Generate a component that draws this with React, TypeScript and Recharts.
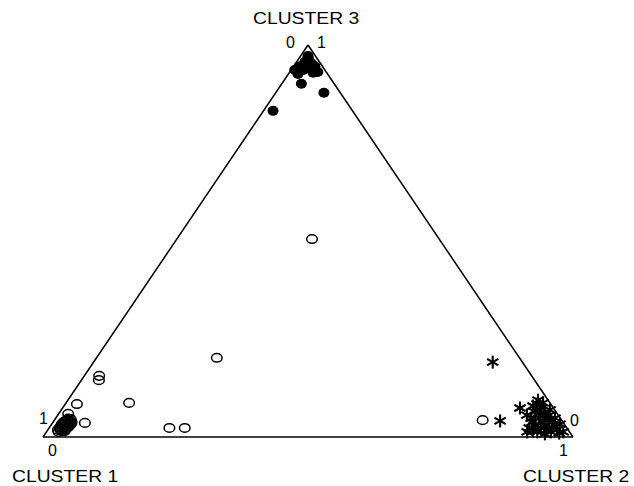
import { ReferenceLine, Scatter, ScatterChart, XAxis, YAxis } from "recharts"

// memberships [cluster 2, cluster 3]; cluster 1 = 1 - both
const cluster3Pts = [
  [0.017, 0.967], [0.016, 0.957], [0.029, 0.954], [0.012, 0.946], [0.04, 0.946],
  [0.018, 0.926], [0.045, 0.929], [0.037, 0.901], [0.091, 0.878], [0.018, 0.832],
  [0.023, 0.936], [0.031, 0.941], [0.007, 0.936], [0.053, 0.931], [0.014, 0.972],
]
const cluster1Pts = [
  [0.255, 0.505], [0.227, 0.202], [0.028, 0.156], [0.033, 0.145], [0.022, 0.084],
  [0.119, 0.087], [0.018, 0.059], [0.061, 0.036], [0.227, 0.023], [0.256, 0.023],
  [0.808, 0.043],
  [0.023, 0.013], [0.024, 0.018], [0.026, 0.023], [0.027, 0.028], [0.028, 0.033],
  [0.03, 0.036], [0.036, 0.033], [0.029, 0.015], [0.033, 0.02], [0.035, 0.026],
  [0.02, 0.026], [0.023, 0.031], [0.019, 0.018], [0.033, 0.023],
  [0.019, 0.033], [0.02, 0.038], [0.022, 0.041], [0.025, 0.043], [0.03, 0.041],
  [0.035, 0.038], [0.035, 0.031], [0.033, 0.015], [0.02, 0.023], [0.033, 0.028],
  [0.024, 0.047], [0.029, 0.046],
]
const cluster2Pts = [
  [0.753, 0.191], [0.863, 0.074], [0.842, 0.041],
  [0.89, 0.084], [0.903, 0.074], [0.896, 0.064], [0.918, 0.059], [0.897, 0.048],
  [0.912, 0.048], [0.933, 0.043], [0.924, 0.038], [0.912, 0.033], [0.947, 0.031],
  [0.906, 0.023], [0.928, 0.023], [0.942, 0.018], [0.961, 0.018], [0.917, 0.015],
  [0.952, 0.013], [0.933, 0.028], [0.926, 0.013], [0.969, 0.01], [0.907, 0.061],
  [0.926, 0.054], [0.904, 0.038],
  [0.887, 0.094], [0.9, 0.087], [0.885, 0.079], [0.885, 0.056], [0.942, 0.048],
  [0.959, 0.033], [0.907, 0.013], [0.943, 0.008], [0.975, 0.013], [0.922, 0.069],
]

const toXY = (pts: number[][]) => pts.map(([c2, c3]) => ({ x: c2 + c3 / 2, y: c3 }))

const Filled = (p: any) => <ellipse cx={p.cx} cy={p.cy} rx={5.5} ry={5} fill="#000" />
const Open = (p: any) => (
  <ellipse cx={p.cx} cy={p.cy} rx={5.3} ry={4.3} fill="none" stroke="#000" strokeWidth={1.5} />
)
const Star = (p: any) => {
  const r = 6.5
  const dx = r * Math.cos(Math.PI / 6)
  const dy = r * Math.sin(Math.PI / 6)
  return (
    <g stroke="#000" strokeWidth={2.1}>
      <line x1={p.cx} y1={p.cy - r} x2={p.cx} y2={p.cy + r} />
      <line x1={p.cx - dx} y1={p.cy - dy} x2={p.cx + dx} y2={p.cy + dy} />
      <line x1={p.cx - dx} y1={p.cy + dy} x2={p.cx + dx} y2={p.cy - dy} />
    </g>
  )
}

const font = "'Liberation Sans', Arial, sans-serif"
const txt: any = { position: "absolute", fontFamily: font, fontSize: 16, color: "#000", lineHeight: 1, whiteSpace: "nowrap" }
const title: any = { ...txt, fontSize: 16.5, transform: "scaleX(1.17)", transformOrigin: "left top" }

export default function App() {
  return (
    <div style={{ position: "absolute", left: 0, top: 0, width: 634, height: 486, background: "#fff" }}>
      <ScatterChart width={634} height={486} margin={{ top: 45, right: 61, bottom: 49, left: 43 }}>
        <XAxis type="number" dataKey="x" domain={[0, 1]} hide />
        <YAxis type="number" dataKey="y" domain={[0, 1]} hide />
        <ReferenceLine segment={[{ x: 0, y: 0 }, { x: 1, y: 0 }]} stroke="#000" strokeWidth={1.5} ifOverflow="visible" />
        <ReferenceLine segment={[{ x: 0, y: 0 }, { x: 0.5, y: 1 }]} stroke="#000" strokeWidth={1.5} ifOverflow="visible" />
        <ReferenceLine segment={[{ x: 1, y: 0 }, { x: 0.5, y: 1 }]} stroke="#000" strokeWidth={1.5} ifOverflow="visible" />
        <Scatter data={toXY(cluster1Pts)} shape={Open} isAnimationActive={false} />
        <Scatter data={toXY(cluster3Pts)} shape={Filled} isAnimationActive={false} />
        <Scatter data={toXY(cluster2Pts)} shape={Star} isAnimationActive={false} />
      </ScatterChart>
      <div style={{ ...title, left: 253, top: 10 }}>CLUSTER 3</div>
      <div style={{ ...title, left: 12, top: 468 }}>CLUSTER 1</div>
      <div style={{ ...title, left: 523, top: 468 }}>CLUSTER 2</div>
      <div style={{ ...txt, left: 286, top: 35 }}>0</div>
      <div style={{ ...txt, left: 317, top: 35 }}>1</div>
      <div style={{ ...txt, left: 39, top: 411 }}>1</div>
      <div style={{ ...txt, left: 48, top: 443 }}>0</div>
      <div style={{ ...txt, left: 570, top: 413 }}>0</div>
      <div style={{ ...txt, left: 559, top: 443 }}>1</div>
    </div>
  )
}
